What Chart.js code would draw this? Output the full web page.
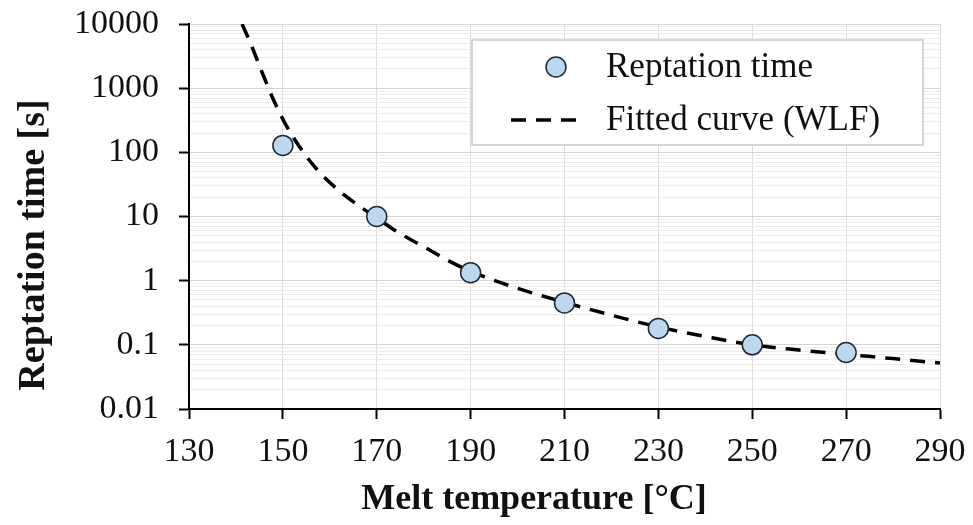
<!DOCTYPE html>
<html>
<head>
<meta charset="utf-8">
<script src="https://cdn.jsdelivr.net/npm/chart.js@4.4.1/dist/chart.umd.min.js"></script>
<style>
  html, body { margin: 0; padding: 0; background: #fff; }
  #wrap { width: 973px; height: 525px; position: relative; }
</style>
</head>
<body>
<div id="wrap"><canvas id="chart1"></canvas></div>
<script>
// measured points
var meltTemps = [150, 170, 190, 210, 230, 250, 270];
var reptationTimes = [128, 10, 1.33, 0.45, 0.18, 0.1, 0.076];

// fitted WLF curve
var fitTemps = [141.3, 143, 145.5, 148, 150.5, 153.5, 157, 162, 166, 170, 175, 180, 185, 190, 200, 210, 220, 230, 240, 250, 260, 270, 280, 290];
var fitTimes = [10000, 5250, 1820, 660, 280, 123, 57, 25, 15, 9.5, 5.4, 3.4, 2.1, 1.4, 0.76, 0.46, 0.29, 0.19, 0.135, 0.1, 0.083, 0.071, 0.061, 0.052];

var xTicks = [130, 150, 170, 190, 210, 230, 250, 270, 290];
var yDecades = [0.01, 0.1, 1, 10, 100, 1000, 10000];

var serif = "'Liberation Serif', 'Times New Roman', serif";

function toXY(xs, ys) {
    var out = [];
    for (var i = 0; i < xs.length; i++) out.push({ x: xs[i], y: ys[i] });
    return out;
}

function isDecade(v) {
    var l = Math.log10(v);
    return Math.abs(l - Math.round(l)) < 1e-6;
}

var legendBox = {
    id: 'legendBox',
    afterDraw: function (chart) {
        var ctx = chart.ctx;
        ctx.save();
        ctx.fillStyle = '#ffffff';
        ctx.fillRect(472, 40, 451, 105);
        ctx.strokeStyle = '#c8c8c8';
        ctx.lineWidth = 1.5;
        ctx.strokeRect(472, 40, 451, 105);

        // marker
        ctx.beginPath();
        ctx.arc(556, 67, 10, 0, Math.PI * 2);
        ctx.fillStyle = '#bdd7ee';
        ctx.fill();
        ctx.strokeStyle = '#1f2a36';
        ctx.lineWidth = 1.5;
        ctx.stroke();

        // dashed sample
        ctx.beginPath();
        ctx.setLineDash([15, 10]);
        ctx.moveTo(511, 120);
        ctx.lineTo(586, 120);
        ctx.strokeStyle = '#000';
        ctx.lineWidth = 3.5;
        ctx.stroke();
        ctx.setLineDash([]);

        ctx.fillStyle = '#111';
        ctx.font = '35px ' + serif;
        ctx.textBaseline = 'middle';
        ctx.textAlign = 'left';
        ctx.fillText('Reptation time', 606, 68);
        ctx.fillText('Fitted curve (WLF)', 606, 121);

        // axis titles
        ctx.font = 'bold 36px ' + serif;
        ctx.textAlign = 'center';
        ctx.fillText('Melt temperature [°C]', 534, 500);

        ctx.translate(34, 245);
        ctx.rotate(-Math.PI / 2);
        ctx.font = 'bold 38px ' + serif;
        ctx.fillText('Reptation time [s]', 0, 0);
        ctx.restore();
    }
};

var ctx1 = document.getElementById('chart1').getContext('2d');
var chart1 = new Chart(ctx1, {
    type: 'scatter',
    data: {
        datasets: [{
            label: 'Fitted curve (WLF)',
            data: toXY(fitTemps, fitTimes),
            showLine: true,
            borderColor: '#000',
            borderWidth: 3.5,
            borderDash: [15, 10],
            pointRadius: 0,
            cubicInterpolationMode: 'monotone',
            order: 2
        }, {
            label: 'Reptation time',
            data: toXY(meltTemps, reptationTimes),
            showLine: false,
            backgroundColor: '#bdd7ee',
            borderColor: '#1f2a36',
            borderWidth: 1.5,
            pointRadius: 10,
            order: 1
        }]
    },
    options: {
        responsive: true,
        maintainAspectRatio: false,
        animation: false,
        layout: { padding: { left: 0, right: 33, top: 24, bottom: 0 } },
        plugins: {
            legend: { display: false },
            tooltip: { enabled: false }
        },
        scales: {
            x: {
                type: 'linear',
                min: 130,
                max: 290,
                afterBuildTicks: function (scale) {
                    scale.ticks = xTicks.map(function (v) { return { value: v }; });
                },
                afterFit: function (scale) {
                    scale.height = 116;
                    scale.paddingLeft = 0;
                    scale.paddingRight = 0;
                },
                border: { display: true, color: '#000', width: 2 },
                grid: {
                    color: '#dcdcdc',
                    lineWidth: 1,
                    tickColor: '#000',
                    tickWidth: 2,
                    tickLength: 10
                },
                ticks: {
                    color: '#111',
                    font: { family: serif, size: 34 },
                    padding: 13,
                    maxRotation: 0
                }
            },
            y: {
                type: 'logarithmic',
                min: 0.01,
                max: 10000,
                afterBuildTicks: function (scale) {
                    var t = [];
                    for (var i = 0; i < yDecades.length; i++) {
                        var d = yDecades[i];
                        t.push({ value: d, major: true });
                        if (i < yDecades.length - 1) {
                            for (var k = 2; k <= 9; k++) t.push({ value: k * d });
                        }
                    }
                    scale.ticks = t;
                },
                afterFit: function (scale) {
                    scale.width = 189;
                    scale.paddingTop = 0;
                    scale.paddingBottom = 0;
                },
                border: { display: true, color: '#000', width: 2 },
                grid: {
                    color: function (c) {
                        return c.tick && isDecade(c.tick.value) ? '#d4d4d4' : '#ececec';
                    },
                    lineWidth: 1,
                    tickColor: function (c) {
                        return c.tick && isDecade(c.tick.value) ? '#000' : 'rgba(0,0,0,0)';
                    },
                    tickWidth: 2,
                    tickLength: 10
                },
                ticks: {
                    autoSkip: false,
                    color: '#111',
                    font: { family: serif, size: 34 },
                    padding: 20,
                    callback: function (v) {
                        if (!isDecade(v)) return '';
                        return String(Number(v.toPrecision(3)));
                    }
                }
            }
        }
    },
    plugins: [legendBox]
});
</script>
</body>
</html>
